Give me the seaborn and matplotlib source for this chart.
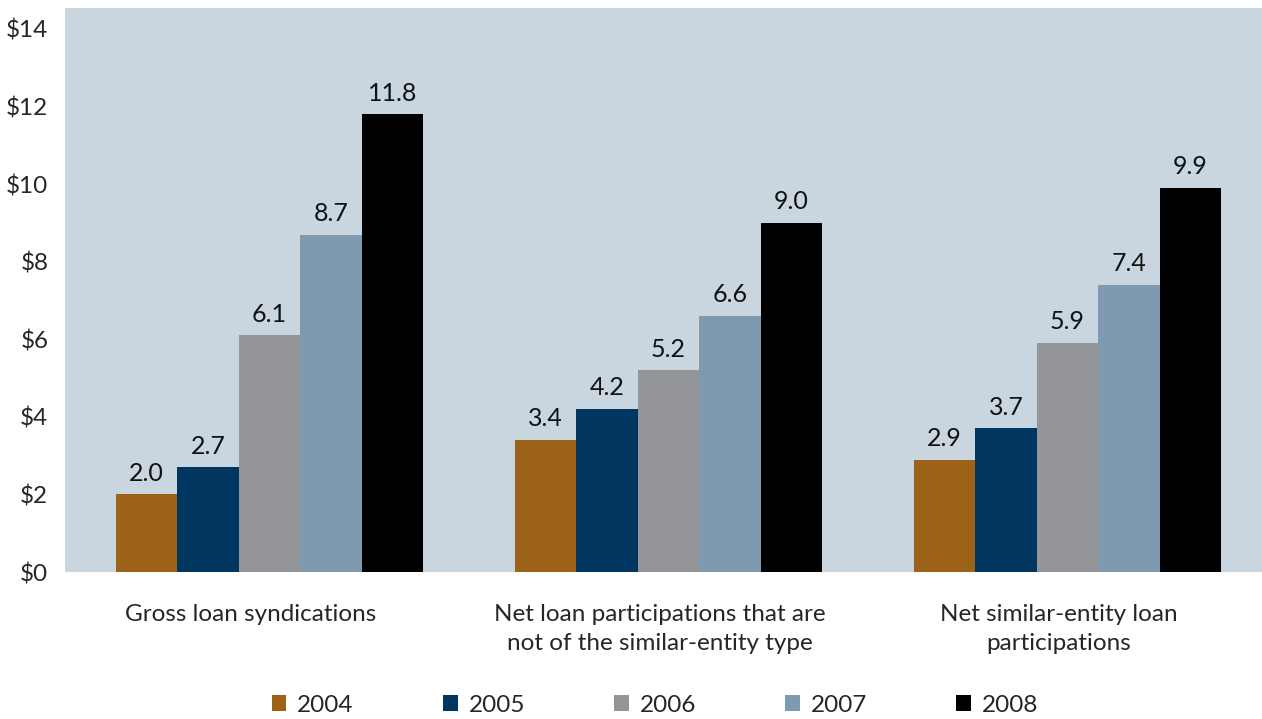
import matplotlib
matplotlib.use("Agg")
import matplotlib.pyplot as plt
import matplotlib.transforms as mtransforms
import seaborn as sns
import pandas as pd
from matplotlib.patches import Patch

categories = [
    "Gross loan syndications",
    "Net loan participations that are\nnot of the similar-entity type",
    "Net similar-entity loan\nparticipations",
]
years = ["2004", "2005", "2006", "2007", "2008"]
values_2004 = [2.0, 3.4, 2.9]
values_2005 = [2.7, 4.2, 3.7]
values_2006 = [6.1, 5.2, 5.9]
values_2007 = [8.7, 6.6, 7.4]
values_2008 = [11.8, 9.0, 9.9]
y_ticks = [0, 2, 4, 6, 8, 10, 12, 14]
y_tick_labels = ["$0", "$2", "$4", "$6", "$8", "$10", "$12", "$14"]

colors = ["#9C6318", "#003660", "#939598", "#7F9AB0", "#000000"]

series = [values_2004, values_2005, values_2006, values_2007, values_2008]
df = pd.DataFrame(
    [(cat, yr, vals[i]) for yr, vals in zip(years, series) for i, cat in enumerate(categories)],
    columns=["category", "year", "value"],
)

sns.set_theme(style="white")
plt.rcParams["font.family"] = ["Lato", "DejaVu Sans"]

FS = 17.5

fig = plt.figure(figsize=(12.62, 7.19), dpi=100)
ax = fig.add_axes([65 / 1262, 1 - 572 / 719, 1197 / 1262, 564 / 719])
ax.set_facecolor("#C9D6DF")

sns.barplot(
    data=df, x="category", y="value", hue="year", order=categories, hue_order=years,
    palette=colors, width=0.77, gap=0, saturation=1, legend=False, ax=ax,
    linewidth=0, errorbar=None,
)

for container in ax.containers:
    ax.bar_label(container, fmt="%.1f", padding=7, fontsize=18, color="#111111")

ax.set_ylim(0, 14.54)
ax.set_xlim(-0.5125, 2.4875)
ax.set_yticks(y_ticks)
ax.set_yticklabels(y_tick_labels, fontsize=FS)
ax.tick_params(axis="x", labelsize=FS, pad=23, length=0)
ax.tick_params(axis="y", pad=12, length=0)

# category labels sit slightly left of their bar groups
label_shifts = [-0.19, -0.09, -0.09]
for lbl, dx in zip(ax.get_xticklabels(), label_shifts):
    lbl.set_linespacing(1.45)
    lbl.set_transform(
        lbl.get_transform() + mtransforms.ScaledTranslation(dx, 0, fig.dpi_scale_trans)
    )
ax.set_xlabel("")
ax.set_ylabel("")
for s in ax.spines.values():
    s.set_visible(False)

handles = [Patch(facecolor=c, edgecolor="none") for c in colors]
fig.legend(
    handles, years, loc="center", bbox_to_anchor=(0.519, 1 - 705 / 719), ncol=5,
    frameon=False, fontsize=FS, handlelength=0.6, handleheight=0.6,
    columnspacing=3.67, handletextpad=0.45,
)

fig.savefig("out.png", dpi=100)
